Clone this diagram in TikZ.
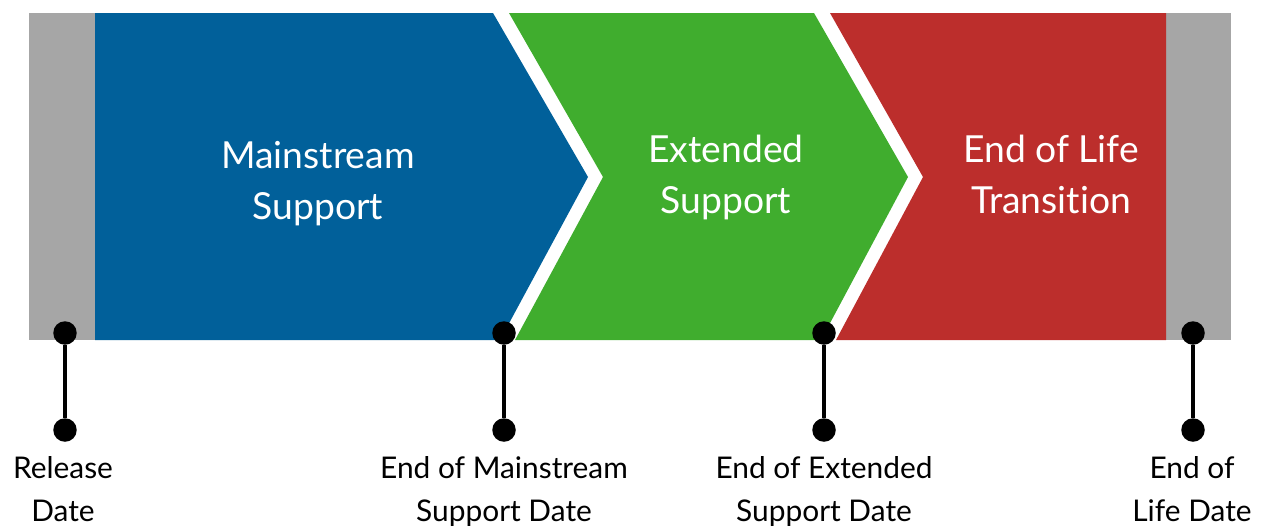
\documentclass[tikz,border=0pt]{standalone}
\usepackage{fontspec}
\setmainfont{Lato}[Ligatures=NoCommon]
\usetikzlibrary{positioning}

\definecolor{capgray}{HTML}{A6A6A6}
\definecolor{msblue}{HTML}{01609A}
\definecolor{extgreen}{HTML}{40AD2E}
\definecolor{eolred}{HTML}{BC2E2C}

\tikzset{
	phase/.style={text=white, align=center, anchor=base, inner sep=0pt, font={\fontsize{21.2}{29}\selectfont}},
	datelbl/.style={text=black, align=center, anchor=base, inner sep=0pt, font={\fontsize{17}{24}\selectfont}},
	dot/.style={circle, fill=black, inner sep=0pt, minimum size=0.47cm},
	stem/.style={black, line width=2.3pt}
}

\begin{document}
\begin{tikzpicture}[x=0.02cm, y=-0.02cm]
		\def\barTop{13} % Top of the bar
		\def\barBot{340} % Bottom of the bar
		\def\dotY{333} % Upper dots
		\def\endY{430} % Lower dots
		
		\useasboundingbox (0,0) rectangle (1263,525);
		
		% Draw the grey ends
		\fill[capgray] (29,\barTop) rectangle (95,\barBot);
		\fill[capgray] (1166,\barTop) rectangle (1231,\barBot);
		
		% Draw the three phases
		\fill[msblue] (95,\barTop) -- (493,\barTop) -- (588,177) -- (500,\barBot) -- (95,\barBot) -- cycle;
		\fill[extgreen] (509,\barTop) -- (814,\barTop) -- (908,177) -- (821,\barBot) -- (515,\barBot) -- (603,177) -- cycle;
		\fill[eolred] (830,\barTop) -- (1166,\barTop) -- (1166,\barBot) -- (836,\barBot) -- (923,177) -- cycle;
		
		% Phase titles (anchored on the last line)
		\node[phase] (mainstream) at (318,219) {Mainstream\\Support};
		\node[phase] (extended) at (726,213) {Extended\\Support};
		\node[phase] (eol) at (1051,213) {End of Life\\Transition};
		
		% Place the dots and join them
		\foreach \x/\name in {65/rel, 504/main, 824/ext, 1193/life} {
			\node[dot] (\name-top) at (\x,\dotY) {};
			\node[dot] (\name-bot) at (\x,\endY) {};
			\draw[stem] (\name-top) -- (\name-bot);
		}
		
		% Date labels under the dots
		\node[datelbl] (rel-lbl) at (63,521) {Release\\Date};
		\node[datelbl] (main-lbl) at (504,521) {End of Mainstream\\Support Date};
		\node[datelbl] (ext-lbl) at (824,521) {End of Extended\\Support Date};
		\node[datelbl] (life-lbl) at (1192,521) {End of\\Life Date};
	\end{tikzpicture}
\end{document}
